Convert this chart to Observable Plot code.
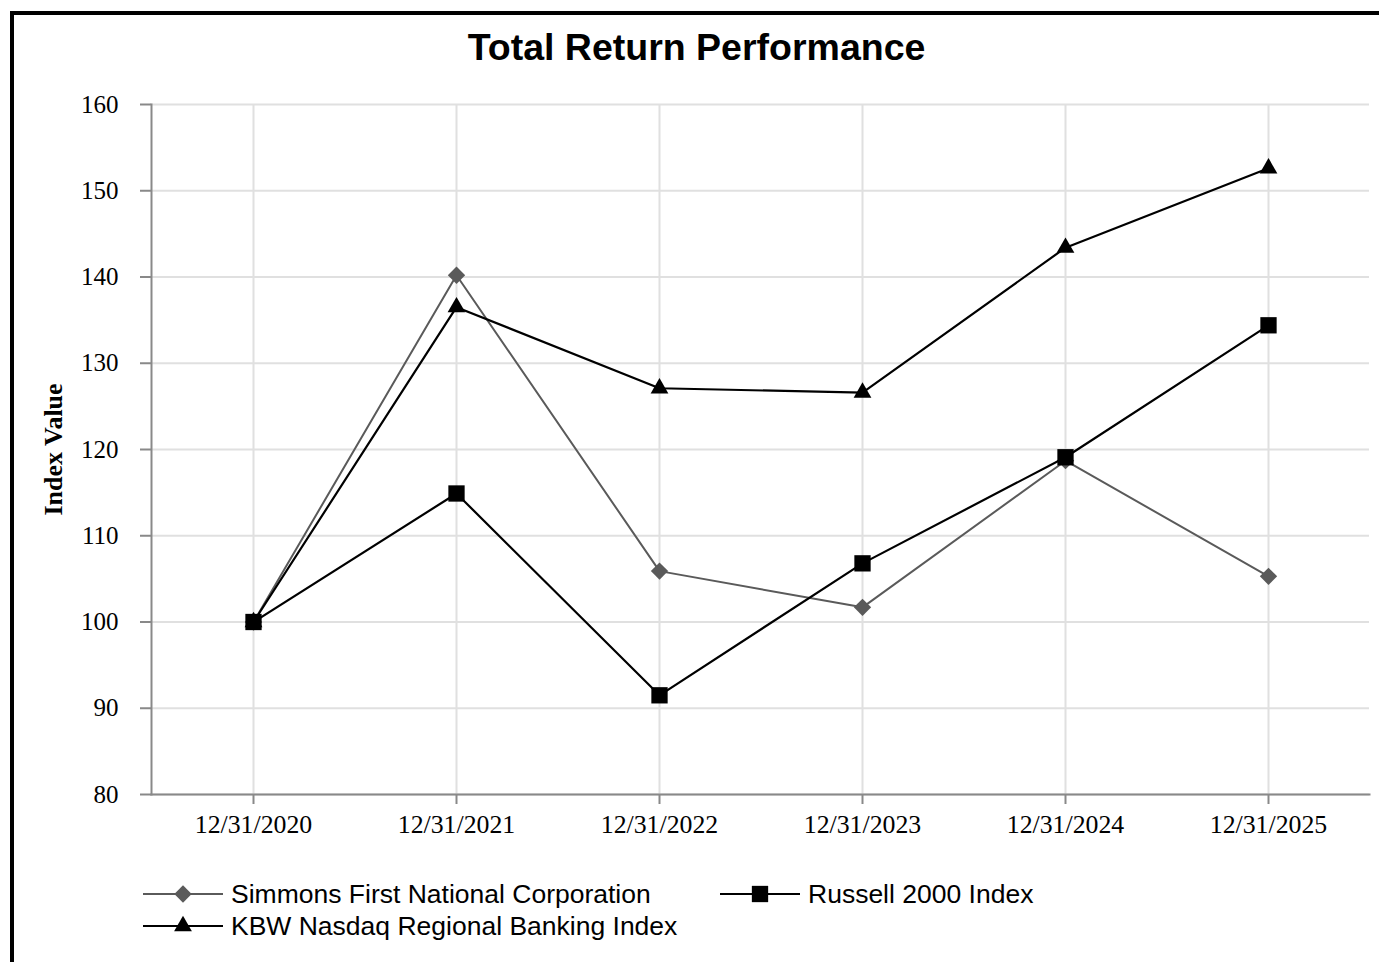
<!DOCTYPE html>
<html><head><meta charset="utf-8">
<script src="https://cdn.jsdelivr.net/npm/d3@7"></script>
<script src="https://cdn.jsdelivr.net/npm/@observablehq/plot@0.6"></script>
<style>
html,body{margin:0;padding:0;background:#fff;}
body{width:1379px;height:962px;position:relative;overflow:hidden;}
#border{position:absolute;left:10px;top:11px;width:1369px;height:951px;border-top:4px solid #000;border-left:4px solid #000;box-sizing:border-box;}
#title{position:absolute;left:14px;width:1365px;top:29px;text-align:center;font:bold 37.5px/37px "Liberation Sans",Arial,sans-serif;color:#000;}
#chart{position:absolute;left:0;top:70px;}
.leg{position:absolute;height:32px;display:flex;align-items:center;font:26.5px/32px "Liberation Sans",Arial,sans-serif;color:#000;white-space:nowrap;}
.leg svg{display:block;margin-right:8px;}
</style></head>
<body>
<div id="border"></div>
<div id="title">Total Return Performance</div>
<div id="chart"></div>
<div id="legend"></div>
<script>
const dates = ["12/31/2020","12/31/2021","12/31/2022","12/31/2023","12/31/2024","12/31/2025"];
const simmons = [100, 140.2, 105.9, 101.7, 118.7, 105.3];
const russell = [100, 114.9, 91.5, 106.8, 119.1, 134.4];
const kbw = [100, 136.5, 127.1, 126.6, 143.4, 152.6];
const seriesNames = ["Simmons First National Corporation", "Russell 2000 Index", "KBW Nasdaq Regional Banking Index"];
const yTicks = [80, 90, 100, 110, 120, 130, 140, 150, 160];
const yLabel = "Index Value";

const styles = [
  {color: "#5a5a5a", symbol: "diamond2", r: 7.8, width: 2},
  {color: "#000000", symbol: "square", r: 9.2, width: 2.2},
  {color: "#000000", symbol: "triangle", r: 6.6, width: 2.2}
];
const values = [simmons, russell, kbw];
const rows = seriesNames.map((name, i) => dates.map((d, j) => ({series: name, date: d, value: values[i][j]})));

const marks = [
  Plot.gridY(yTicks, {stroke: "#e0e0e0", strokeOpacity: 1, strokeWidth: 2}),
  Plot.gridX(dates, {stroke: "#e0e0e0", strokeOpacity: 1, strokeWidth: 2}),
  Plot.frame({anchor: "left", stroke: "#898989", strokeWidth: 2}),
  Plot.frame({anchor: "bottom", stroke: "#898989", strokeWidth: 2}),
  Plot.axisY(yTicks, {tickSize: 11, tickPadding: 22, stroke: "#898989", strokeWidth: 2, fill: "#000", fontSize: 25, label: null}),
  Plot.axisX(dates, {tickSize: 10, tickPadding: 10, stroke: "#898989", strokeWidth: 2, fill: "#000", fontSize: 25.8, label: null}),
  Plot.text([yLabel], {frameAnchor: "left", textAnchor: "middle", dx: -98, rotate: -90, fontWeight: "bold", fontSize: 26, fill: "#000", text: d => d})
];
rows.forEach((data, i) => {
  const s = styles[i];
  marks.push(Plot.line(data, {x: "date", y: "value", stroke: s.color, strokeWidth: s.width}));
  marks.push(Plot.dot(data, {x: "date", y: "value", symbol: () => s.symbol, r: s.r, fill: s.color, stroke: "none"}));
});

const chart = Plot.plot({
  width: 1379,
  height: 790,
  marginTop: 34,
  marginBottom: 66,
  marginLeft: 151,
  marginRight: 10,
  style: {fontFamily: "'Liberation Serif', 'Times New Roman', serif", fontSize: "25px", color: "#000", background: "transparent", overflow: "visible"},
  x: {type: "point", domain: dates, padding: 0.5, axis: null},
  y: {domain: [80, 160], axis: null},
  symbol: {type: "identity"},
  marks
});
document.getElementById("chart").appendChild(chart);

// legend
const legPos = [{left: 143, top: 878}, {left: 720, top: 878}, {left: 143, top: 910}];
const legend = document.getElementById("legend");
const symMap = {diamond2: d3.symbolDiamond2, square: d3.symbolSquare, triangle: d3.symbolTriangle};
seriesNames.forEach((name, i) => {
  const s = styles[i];
  const div = document.createElement("div");
  div.className = "leg";
  div.style.left = legPos[i].left + "px";
  div.style.top = legPos[i].top + "px";
  const svg = d3.create("svg").attr("width", 80).attr("height", 32);
  svg.append("line").attr("x1", 0).attr("x2", 80).attr("y1", 16).attr("y2", 16).attr("stroke", s.color).attr("stroke-width", s.width);
  svg.append("path").attr("transform", "translate(40,16)").attr("d", d3.symbol(symMap[s.symbol], Math.PI * s.r * s.r)()).attr("fill", s.color);
  div.appendChild(svg.node());
  const span = document.createElement("span");
  span.textContent = name;
  div.appendChild(span);
  legend.appendChild(div);
});
</script>
</body></html>
